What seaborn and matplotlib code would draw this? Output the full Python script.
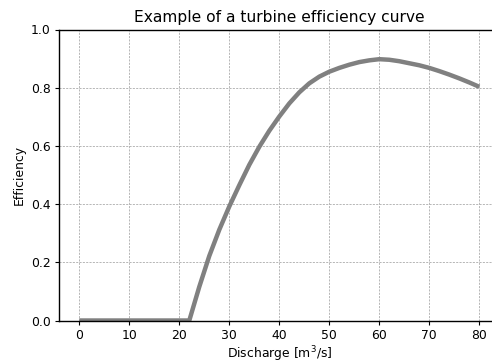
import matplotlib
matplotlib.use("Agg")
import matplotlib.pyplot as plt
import seaborn as sns
import pandas as pd

# Turbine efficiency versus discharge
discharge = [0, 2, 4, 6, 8, 10, 12, 14, 16, 18, 20, 22,
             24, 26, 28, 30, 32, 34, 36, 38, 40, 42, 44, 46, 48, 50,
             52, 54, 56, 58, 60, 62, 64, 66, 68, 70, 72, 74, 76, 78, 80]
efficiency = [0, 0, 0, 0, 0, 0, 0, 0, 0, 0, 0, 0,
              0.116, 0.222, 0.312, 0.392, 0.465, 0.535, 0.597, 0.652, 0.701,
              0.746, 0.784, 0.815, 0.838, 0.855, 0.868, 0.879, 0.888, 0.894,
              0.898, 0.896, 0.891, 0.884, 0.877, 0.868, 0.857, 0.845, 0.832,
              0.818, 0.803]
x_ticks = [0, 10, 20, 30, 40, 50, 60, 70, 80]
y_ticks = [0.0, 0.2, 0.4, 0.6, 0.8, 1.0]

df = pd.DataFrame({"Discharge": discharge, "Efficiency": efficiency})

sns.set_style("ticks")
plt.rcParams["font.family"] = ["DejaVu Sans"]
plt.rcParams["text.color"] = "black"
plt.rcParams["axes.labelcolor"] = "black"
plt.rcParams["xtick.color"] = "black"
plt.rcParams["ytick.color"] = "black"

W, H = 492, 363
fig = plt.figure(figsize=(W / 100, H / 100), dpi=100)
left, right, bottom, top = 59.3, 499.3, 320.5, 29.5
ax = fig.add_axes([left / W, 1 - bottom / H, (right - left) / W, (bottom - top) / H])

sns.lineplot(data=df, x="Discharge", y="Efficiency", ax=ax,
             color="#808080", linewidth=3.2, solid_capstyle="butt",
             solid_joinstyle="round")

ax.set_xlim(-4, 84)
ax.set_ylim(0, 1)
ax.set_xticks(x_ticks)
ax.set_yticks(y_ticks)
ax.grid(True, linestyle=(0, (2.5, 1.5)), color="#ababab", linewidth=0.6)
ax.set_axisbelow(True)
for s in ax.spines.values():
    s.set_color("black")
    s.set_linewidth(1.0)
ax.tick_params(axis="both", labelsize=8.9, length=3.2, width=0.8,
               pad=3.0, color="black", labelcolor="black")

ax.set_title("Example of a turbine efficiency curve", fontsize=11.2,
             color="black", pad=5.5)
ax.set_xlabel("Discharge [m$^3$/s]", fontsize=8.9, labelpad=1.6)
ax.set_ylabel("Efficiency", fontsize=8.9, labelpad=3.5)

fig.savefig("out.png", dpi=100)
